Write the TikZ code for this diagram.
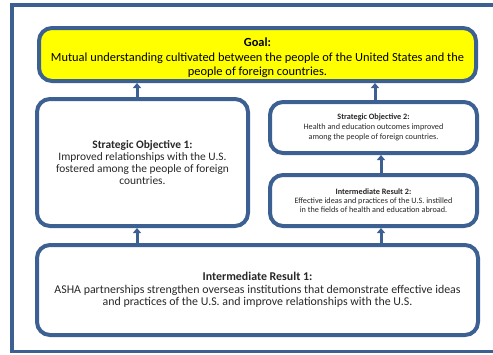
\documentclass[tikz,border=0pt]{standalone}
\usepackage{fontspec}
\setmainfont{Carlito}
\usetikzlibrary{arrows.meta}
\definecolor{frameblue}{RGB}{60,96,146}
\definecolor{txt}{RGB}{40,40,40}
\definecolor{goalyellow}{RGB}{255,255,0}
\tikzset{
  box/.style={draw=frameblue, line width=4pt, rounded corners=13pt, fill=white,
    align=center, text=txt, inner sep=0pt},
  goaltext/.style={font=\fontsize{12.4}{14.5}\selectfont},
  sotext/.style={font=\fontsize{11.4}{12.3}\selectfont},
  irtext/.style={font=\fontsize{11.9}{12.5}\selectfont},
  smalltext/.style={font=\fontsize{8.2}{9.8}\selectfont},
  tinytext/.style={font=\fontsize{8.2}{9.2}\selectfont},
  arr/.style={draw=frameblue, line width=3pt, -{Triangle[width=8pt,length=5pt]}}
}
\begin{document}
\begin{tikzpicture}[x=1pt,y=-1pt]
\useasboundingbox[fill=white] (0,0) rectangle (493,354);
\draw[frameblue, line width=3.6pt] (494,5) -- (12,5) -- (12,351.5) -- (494,351.5);
\node[box, goaltext, fill=goalyellow, text=black, minimum width=437pt, minimum height=53pt] (goal) at (257.5,54.5)
  {\rule{0pt}{16pt}\textbf{Goal:}\\Mutual understanding cultivated between the people of the United States and the\\people of foreign countries.};
\node[box, sotext, minimum width=211pt, minimum height=127pt] (so1) at (142.5,162.5)
  {\textbf{Strategic Objective 1:}\\Improved relationships with the U.S.\\fostered among the people of foreign\\countries.};
\node[box, smalltext, minimum width=207pt, minimum height=51pt] (so2) at (373.5,127.5)
  {\textbf{Strategic Objective 2:}\\Health and education outcomes improved\\among the people of foreign countries.};
\node[box, tinytext, minimum width=207pt, minimum height=51pt] (ir2) at (373.5,200.5)
  {\textbf{Intermediate Result 2:}\\Effective ideas and practices of the U.S. instilled\\in the fields of health and education abroad.};
\node[box, irtext, minimum width=441pt, minimum height=90pt] (ir1) at (257.5,290)
  {\textbf{Intermediate Result 1:}\\ASHA partnerships strengthen overseas institutions that demonstrate effective ideas\\and practices of the U.S. and improve relationships with the U.S.};
\draw[arr] ([xshift=-5.5pt]so1.north) -- ([xshift=-5.5pt]so1.north |- goal.south);
\draw[arr] ([xshift=1.5pt]so2.north) -- ([xshift=1.5pt]so2.north |- goal.south);
\draw[arr] ([xshift=7.5pt]ir2.north) -- ([xshift=7.5pt]ir2.north |- so2.south);
\draw[arr] ([xshift=7.5pt]ir2.south |- ir1.north) -- ([xshift=7.5pt]ir2.south);
\draw[arr] ([xshift=-5.5pt]so1.south |- ir1.north) -- ([xshift=-5.5pt]so1.south);
\end{tikzpicture}
\end{document}
